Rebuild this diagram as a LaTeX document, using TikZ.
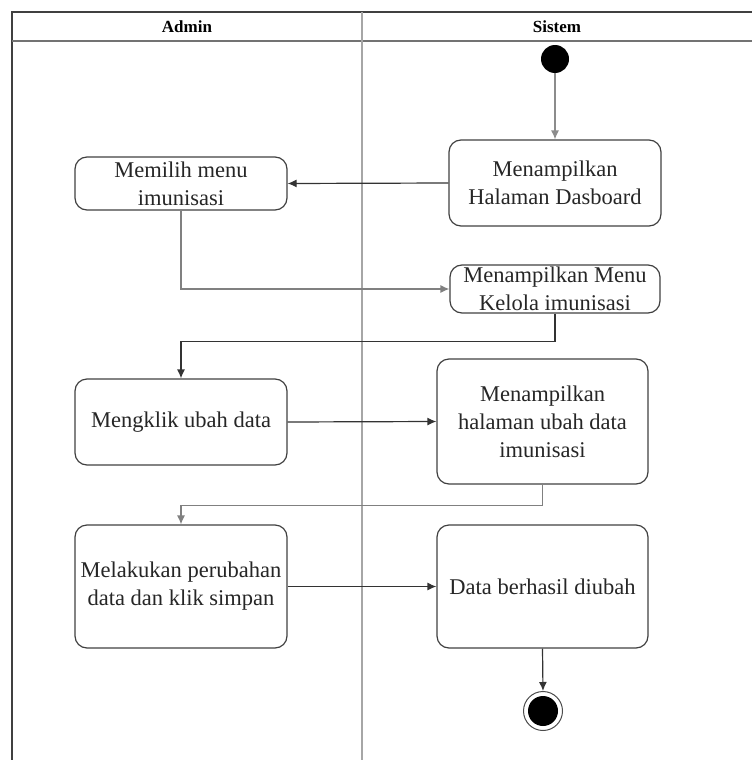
\documentclass[tikz,border=0pt]{standalone}
\usepackage{fontspec}
\setmainfont{Liberation Serif}
\usetikzlibrary{arrows.meta,calc}
\begin{document}
\begin{tikzpicture}[x=1pt,y=-1pt,
  act/.style={draw=black!75, line width=1.2pt, rounded corners=12pt, align=center,
    inner sep=0pt, font=\fontsize{22.5}{28}\selectfont, text=black!85},
  flow/.style={draw=black!80, line width=1.2pt, -{Latex[length=9pt,width=8pt]}},
  lane/.style={line width=1.3pt},
  head/.style={font=\fontsize{17}{20}\selectfont\bfseries}
]
\useasboundingbox (0,0) rectangle (752,760);
% swimlane frame
\draw[lane, draw=black!75] (12,760) -- (12,12) -- (752,12);
\draw[lane, draw=black!55] (12,41) -- (752,41);
\draw[lane, draw=black!35] (362,12) -- (362,760);
\node[head] (hadmin) at (187,27) {Admin};
\node[head] (hsistem) at (557,27) {Sistem};

% start and end states
\node[circle, fill=black, minimum size=28pt, inner sep=0pt] (start) at (555,59) {};
\node[circle, draw=black!70, line width=1pt, minimum size=39pt, inner sep=0pt] (end) at (543,711) {};
\node[circle, fill=black, minimum size=30pt, inner sep=0pt] (endin) at (end.center) {};

% activities
\node[act, minimum width=212pt, minimum height=86pt] (b1) at (555,183) {Menampilkan\\Halaman Dasboard};
\node[act, minimum width=212pt, minimum height=53pt] (b2) at (181,183.5) {Memilih menu\\imunisasi};
\node[act, minimum width=210pt, minimum height=48pt] (b3) at (555,289) {Menampilkan Menu\\Kelola imunisasi};
\node[act, minimum width=212pt, minimum height=86pt] (b4) at (181,422) {Mengklik ubah data};
\node[act, minimum width=211pt, minimum height=125pt] (b5) at (542.5,421.5) {Menampilkan\\halaman ubah data\\imunisasi};
\node[act, minimum width=212pt, minimum height=123pt] (b6) at (181,586.5) {Melakukan perubahan\\data dan klik simpan};
\node[act, minimum width=211pt, minimum height=123pt] (b7) at (542.5,586.5) {Data berhasil diubah};

% control flow
\draw[flow, draw=black!45] (start) -- (b1.north);
\draw[flow] (b1.west) -- (b2.east);
\draw[flow, draw=black!50] (b2.south) |- (b3.west);
\draw[flow] (b3.south) -- ++(0,28) -| (b4.north);
\draw[flow] (b4.east) -- (b5.west);
\draw[flow, draw=black!50] (b5.south) -- ++(0,21) -| (b6.north);
\draw[flow] (b6.east) -- (b7.west);
\draw[flow] (b7.south) -- (end.north);
\end{tikzpicture}
\end{document}
